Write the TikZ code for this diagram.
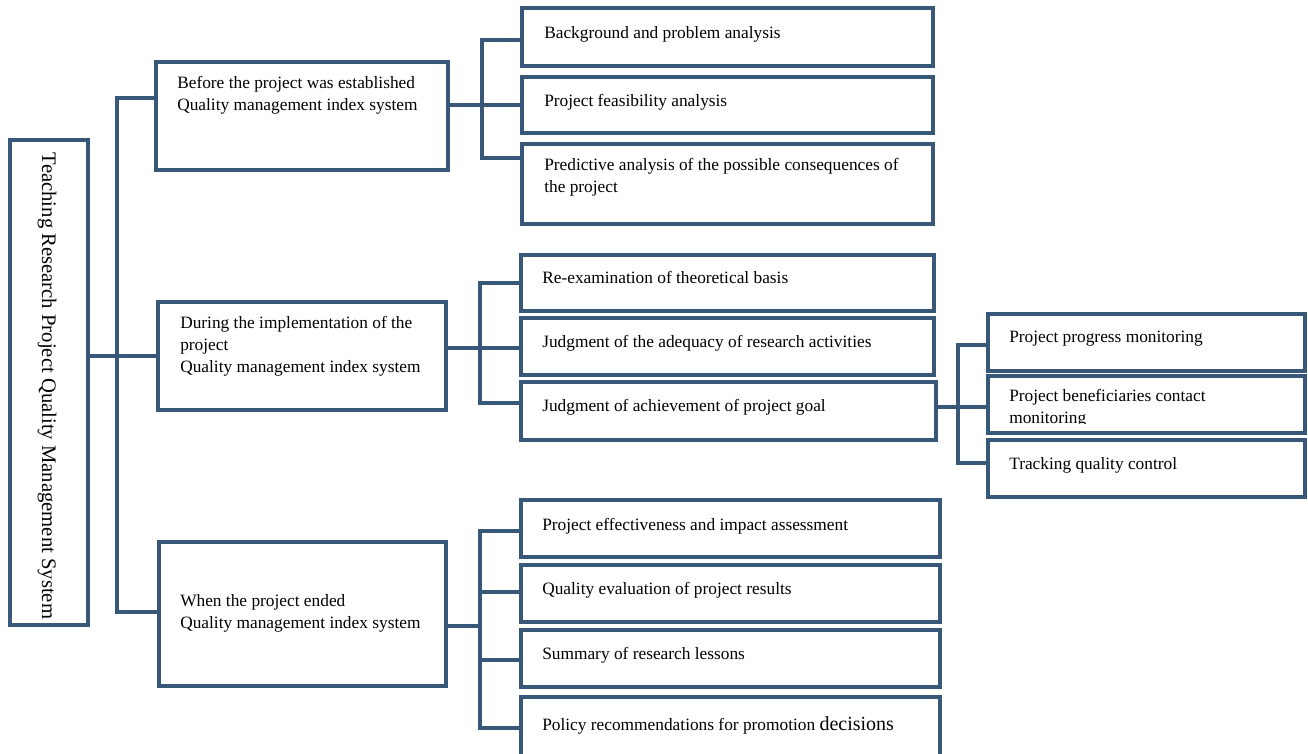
\documentclass[tikz,border=0pt]{standalone}
\usepackage{fontspec}
\setmainfont{Liberation Serif}
\usetikzlibrary{fit}
\definecolor{bc}{RGB}{56,88,122}
\begin{document}
\begin{tikzpicture}[x=0.75pt,y=-0.75pt,
  box/.style={draw=bc,line width=2.3pt,inner sep=0pt,rectangle},
  link/.style={draw=bc,line width=2.3pt},
  lbl/.style={anchor=base west,inner sep=0pt,font=\fontsize{13}{16.5}\selectfont,align=left}]
\useasboundingbox[fill=white] (0,0) rectangle (1308,753);
% root
\node[box,fit={(10,140)(88,625)}] (root) {};
\node[rotate=-90,inner sep=0pt,font=\fontsize{15.5}{18}\selectfont] (roott) at (47,386) {Teaching Research Project Quality Management System};
% level 1
\node[box,fit={(156,62)(448,170)}] (A) {};
\node[lbl] (At) at (177,110) {Before the project was established\\Quality management index system};
\node[box,fit={(158,302)(446,410)}] (B) {};
\node[lbl] (Bt) at (180,372) {During the implementation of the\\project\\Quality management index system};
\node[box,fit={(159,542)(446,686)}] (D) {};
\node[lbl] (Dt) at (180,628) {When the project ended\\Quality management index system};
% A children
\node[box,fit={(522,8)(933,66)}] (A1) {};
\node[lbl] (A1t) at (544,38) {Background and problem analysis};
\node[box,fit={(522,77)(933,133)}] (A2) {};
\node[lbl] (A2t) at (544,106) {Project feasibility analysis};
\node[box,fit={(522,144)(933,224)}] (A3) {};
\node[lbl] (A3t) at (544,192) {Predictive analysis of the possible consequences of\\the project};
% B children
\node[box,fit={(521,255)(934,311)}] (B1) {};
\node[lbl] (B1t) at (542,283) {Re-examination of theoretical basis};
\node[box,fit={(521,318)(934,375)}] (B2) {};
\node[lbl] (B2t) at (542,347) {Judgment of the adequacy of research activities};
\node[box,fit={(521,382)(936,440)}] (B3) {};
\node[lbl] (B3t) at (542,411) {Judgment of achievement of project goal};
% C children
\node[box,fit={(988,314)(1305,371)}] (C1) {};
\node[lbl] (C1t) at (1009,342) {Project progress monitoring};
\node[box,fit={(988,376)(1305,433)}] (C2) {};
\begin{scope}
\clip (988,376) rectangle (1305,423);
\node[lbl] (C2t) at (1009,423) {Project beneficiaries contact\\monitoring};
\end{scope}
\node[box,fit={(988,440)(1305,497)}] (C3) {};
\node[lbl] (C3t) at (1009,469) {Tracking quality control};
% D children
\node[box,fit={(521,500)(940,557)}] (D1) {};
\node[lbl] (D1t) at (542,530) {Project effectiveness and impact assessment};
\node[box,fit={(521,565)(940,622)}] (D2) {};
\node[lbl] (D2t) at (542,594) {Quality evaluation of project results};
\node[box,fit={(521,630)(940,687)}] (D3) {};
\node[lbl] (D3t) at (542,659) {Summary of research lessons};
\node[box,fit={(521,697)(940,764)}] (D4) {};
\node[lbl] (D4t) at (542,730) {Policy recommendations for promotion {\fontsize{15}{18}\selectfont decisions}};
% junctions
\coordinate (jA) at (117,98);
\coordinate (jD) at (117,612);
\coordinate (bA) at (482,105);
\coordinate (bA1) at (482,40);
\coordinate (bA3) at (482,158);
\coordinate (bB) at (480,348);
\coordinate (bB1) at (480,283);
\coordinate (bB3) at (480,403);
\coordinate (bC) at (958,407);
\coordinate (bC1) at (958,345);
\coordinate (bC3) at (958,463);
\coordinate (bD) at (480,626);
\coordinate (bD1) at (480,531);
\coordinate (bD2) at (480,592);
\coordinate (bD3) at (480,660);
\coordinate (bD4) at (480,728);
% connectors
\draw[link] (root.east |- B.west) -- (B.west);
\draw[link] (jA -| A.west) -- (jA) -- (jD) -- (jD -| D.west);
\draw[link] (A.east |- bA) -- (bA) -- (bA -| A2.west);
\draw[link] (bA1 -| A1.west) -- (bA1) -- (bA3) -- (bA3 -| A3.west);
\draw[link] (B.east |- bB) -- (bB) -- (bB -| B2.west);
\draw[link] (bB1 -| B1.west) -- (bB1) -- (bB3) -- (bB3 -| B3.west);
\draw[link] (B3.east |- bC) -- (bC) -- (bC -| C2.west);
\draw[link] (bC1 -| C1.west) -- (bC1) -- (bC3) -- (bC3 -| C3.west);
\draw[link] (D.east |- bD) -- (bD);
\draw[link] (bD1 -| D1.west) -- (bD1) -- (bD4) -- (bD4 -| D4.west);
\draw[link] (bD2) -- (bD2 -| D2.west);
\draw[link] (bD3) -- (bD3 -| D3.west);
\end{tikzpicture}
\end{document}
